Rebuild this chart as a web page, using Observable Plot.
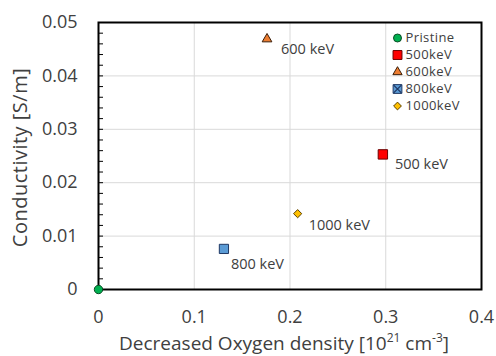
<!DOCTYPE html>
<html><head><meta charset="utf-8">
<script src="https://cdn.jsdelivr.net/npm/d3@7"></script>
<script src="https://cdn.jsdelivr.net/npm/@observablehq/plot@0.6"></script>
<style>
body{margin:0;background:#fff;}
#wrap{position:relative;width:496px;height:356px;font-family:"Open Sans",sans-serif;}
#legend{position:absolute;left:388px;top:27px;}
</style></head><body><div id="wrap"><div id="main"></div><div id="legend"></div></div>
<script>
// ---- data ----
const names = ["Pristine", "500keV", "600keV", "800keV", "1000keV"];
const pointLabels = ["", "500 keV", "600 keV", "800 keV", "1000 keV"];
const xValues = [0, 0.297, 0.176, 0.131, 0.208];
const yValues = [0, 0.0253, 0.0469, 0.0076, 0.0142];
const xTicks = [0, 0.1, 0.2, 0.3, 0.4];
const xTickLabels = ["0", "0.1", "0.2", "0.3", "0.4"];
const yTicks = [0, 0.01, 0.02, 0.03, 0.04, 0.05];
const yTickLabels = ["0", "0.01", "0.02", "0.03", "0.04", "0.05"];
const yMinorTicks = [0.002, 0.004, 0.006, 0.008, 0.01, 0.012, 0.014, 0.016, 0.018, 0.02, 0.022, 0.024,
  0.026, 0.028, 0.03, 0.032, 0.034, 0.036, 0.038, 0.04, 0.042, 0.044, 0.046, 0.048];
const xTitle = "Decreased Oxygen density [10^21 cm^-3]";
const yTitle = "Conductivity [S/m]";

// ---- styling ----
const symbols = ["circle", "square", "triangle", "square", "diamond2"];
const fills = ["#00b050", "#ff0000", "#ed7d31", "#5b9bd5", "#ffc000"];
const strokes = ["#0b4d25", "#6b0000", "#3a1d08", "#1f3864", "#5a4000"];
const radii = [4.2, 5.3, 3.6, 5.2, 3.7];
const labelOffsets = [[0, 0], [12, 10], [14, 10], [7, 15], [11, 12]];
const textColor = "#404040";
const FONT = "'Open Sans', sans-serif";

const points = names.map((n, i) => ({name: n, label: pointLabels[i], x: xValues[i], y: yValues[i]}));

const marks = [
  Plot.gridX(xTicks, {stroke: "#d9d9d9", strokeOpacity: 1}),
  Plot.gridY(yTicks, {stroke: "#d9d9d9", strokeOpacity: 1}),
  Plot.tickY(yMinorTicks, {y: d => d, insetRight: 378, stroke: "#000", strokeWidth: 1}),
  Plot.frame({stroke: "#000", strokeWidth: 2}),
  Plot.axisX(xTicks, {tickSize: 0, tickPadding: 21, fontSize: 18, fill: textColor,
    tickFormat: d => xTickLabels[xTicks.indexOf(d)], label: null}),
  Plot.axisY(yTicks, {tickSize: 0, tickPadding: 21, fontSize: 18, fill: textColor,
    tickFormat: d => yTickLabels[yTicks.indexOf(d)], label: null}),
  Plot.text([xTitle], {text: d => d, frameAnchor: "bottom", textAnchor: "middle", lineAnchor: "middle",
    dy: 54, dx: -6, fontSize: 19, fill: textColor}),
  Plot.text([yTitle], {text: d => d, frameAnchor: "left", textAnchor: "middle", lineAnchor: "middle",
    rotate: -90, dx: -77.5, dy: 1.5, fontSize: 20, fill: textColor})
];
points.forEach((p, i) => {
  marks.push(Plot.dot([p], {x: "x", y: "y", symbol: symbols[i], r: radii[i], fill: fills[i], stroke: strokes[i], strokeWidth: 1}));
  if (p.label) marks.push(Plot.text([p], {x: "x", y: "y", text: "label", textAnchor: "start",
    dx: labelOffsets[i][0], dy: labelOffsets[i][1], fontSize: 14.5, fill: textColor}));
});

const chart = Plot.plot({
  width: 496, height: 356,
  marginLeft: 98, marginRight: 15, marginTop: 22, marginBottom: 67,
  style: {fontFamily: FONT, color: textColor, background: "#fff"},
  x: {domain: [0, 0.4]},
  y: {domain: [0, 0.05]},
  marks
});
document.getElementById("main").appendChild(chart);

chart.querySelectorAll("text").forEach(t => {
  // superscripts in the x title
  if (t.textContent === xTitle) {
    t.textContent = "";
    const parts = [["Decreased Oxygen density [10", false], ["21", true], [" cm", false], ["-3", true], ["]", false]];
    parts.forEach(([s, sup]) => {
      const ts = document.createElementNS("http://www.w3.org/2000/svg", "tspan");
      ts.textContent = s;
      if (sup) { ts.setAttribute("baseline-shift", "super"); ts.setAttribute("font-size", "12"); }
      t.appendChild(ts);
    });
  }
  if (t.textContent === yTitle) t.setAttribute("letter-spacing", "0.5");
});

// legend
const legendMarks = [];
names.forEach((n, i) => {
  legendMarks.push(Plot.dot([n], {y: d => d, frameAnchor: "left", dx: 9, symbol: symbols[i],
    r: radii[i] * 0.95, fill: fills[i], stroke: strokes[i], strokeWidth: 1}));
  if (n === "800keV") legendMarks.push(Plot.dot([n], {y: d => d, frameAnchor: "left", dx: 9, symbol: "times",
    r: 3.6, stroke: "#1f3864", strokeWidth: 1.3}));
  legendMarks.push(Plot.text([n], {y: d => d, text: d => d, frameAnchor: "left", dx: 17, textAnchor: "start",
    fontSize: 13, letterSpacing: 0.3, fill: textColor}));
});
const legend = Plot.plot({
  width: 100, height: 90, margin: 0,
  style: {fontFamily: FONT, background: "transparent", overflow: "visible"},
  y: {domain: names, type: "band", axis: null},
  x: {axis: null},
  marks: legendMarks
});
document.getElementById("legend").appendChild(legend);
legend.querySelectorAll("text").forEach(t => t.setAttribute("letter-spacing", "0.4"));
</script></body></html>
